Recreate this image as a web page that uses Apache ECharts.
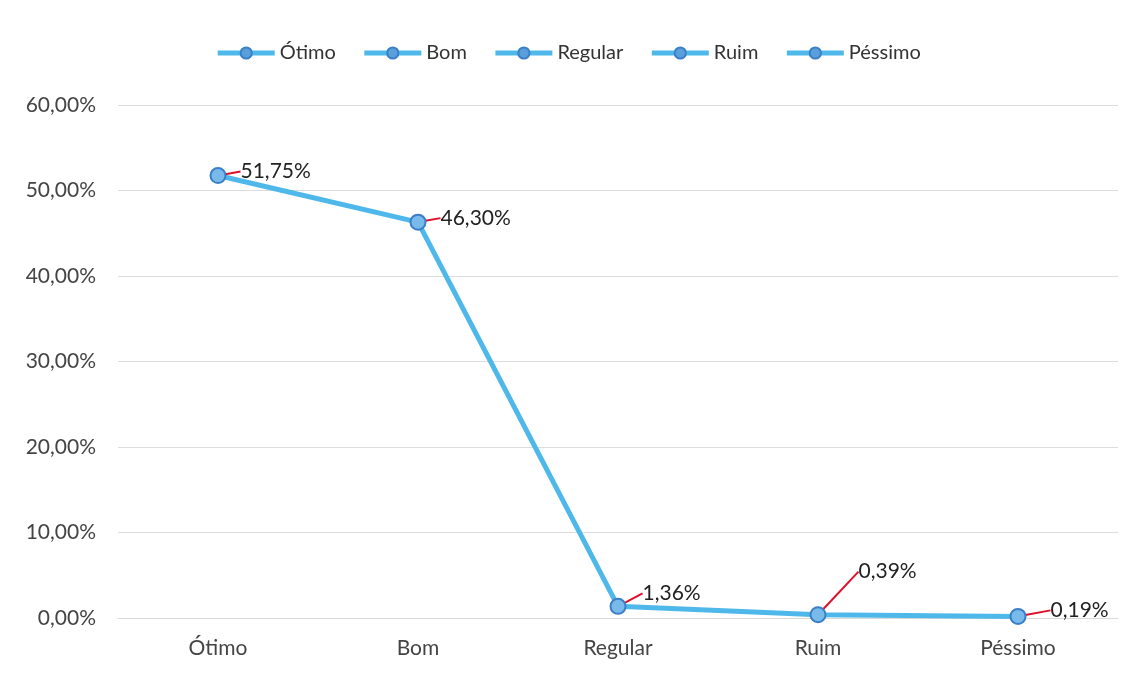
<!DOCTYPE html>
<html>
<head>
<meta charset="utf-8">
<script src="https://cdn.jsdelivr.net/npm/echarts@6/dist/echarts.min.js"></script>
<style>
  html, body { margin: 0; padding: 0; background: #fff; }
  #chart { width: 1136px; height: 674px; }
</style>
</head>
<body>
<div id="chart"></div>
<script>
// categorias e valores (%)
var categorias = ['Ótimo', 'Bom', 'Regular', 'Ruim', 'Péssimo'];
var valores = [51.75, 46.30, 1.36, 0.39, 0.19];
var yTicks = [0, 10, 20, 30, 40, 50, 60];

// deslocamento dos rótulos (estilo)
var rotuloDx = [12, 12, 14, 30, 22];
var rotuloDy = [-4, -4, -13, -43, -6];

function pct(v) {
  return v.toFixed(2).replace('.', ',') + '%';
}

var chart = echarts.init(document.getElementById('chart'));

var azul = '#4fb8ea';
var fonte = 'Lato, "Open Sans", sans-serif';

// séries vazias só para a legenda
var series = categorias.map(function (nome) {
  return {
    name: nome,
    type: 'line',
    data: [],
    symbol: 'circle',
    symbolSize: 12,
    lineStyle: { color: azul, width: 5 },
    itemStyle: { color: '#5a9fdc', borderColor: '#3a7fc8', borderWidth: 2 }
  };
});

series.push({
  name: 'dados',
  type: 'line',
  data: valores,
  symbol: 'circle',
  symbolSize: 15,
  lineStyle: { color: azul, width: 5 },
  itemStyle: { color: '#78bbea', borderColor: '#3a7fc8', borderWidth: 2 },
  label: {
    show: true,
    position: 'right',
    distance: 2,
    color: '#222',
    fontSize: 21,
    fontFamily: fonte,
    formatter: function (p) { return pct(p.value); }
  },
  labelLine: {
    show: true,
    lineStyle: { color: '#e0102a', width: 2 }
  },
  labelLayout: function (p) {
    return { dx: rotuloDx[p.dataIndex], dy: rotuloDy[p.dataIndex] };
  },
  z: 3
});

var option = {
  backgroundColor: '#fff',
  animation: false,
  legend: {
    data: categorias,
    top: 38,
    left: 'center',
    itemWidth: 57,
    itemHeight: 14,
    itemGap: 26,
    lineStyle: { width: 5 },
    textStyle: { color: '#333', fontSize: 20, fontFamily: fonte }
  },
  grid: { left: 118, right: 18, top: 105, bottom: 56 },
  xAxis: {
    type: 'category',
    data: categorias,
    axisLine: { lineStyle: { color: '#d9d9d9' } },
    axisTick: { show: false },
    axisLabel: { color: '#444', fontSize: 21, fontFamily: fonte, margin: 20 }
  },
  yAxis: {
    type: 'value',
    min: yTicks[0],
    max: yTicks[yTicks.length - 1],
    interval: 10,
    axisLabel: {
      color: '#444', fontSize: 21, fontFamily: fonte, margin: 22,
      formatter: function (v) { return pct(v); }
    },
    splitLine: { lineStyle: { color: '#dcdcdc' } }
  },
  series: series
};

chart.setOption(option);
</script>
</body>
</html>
